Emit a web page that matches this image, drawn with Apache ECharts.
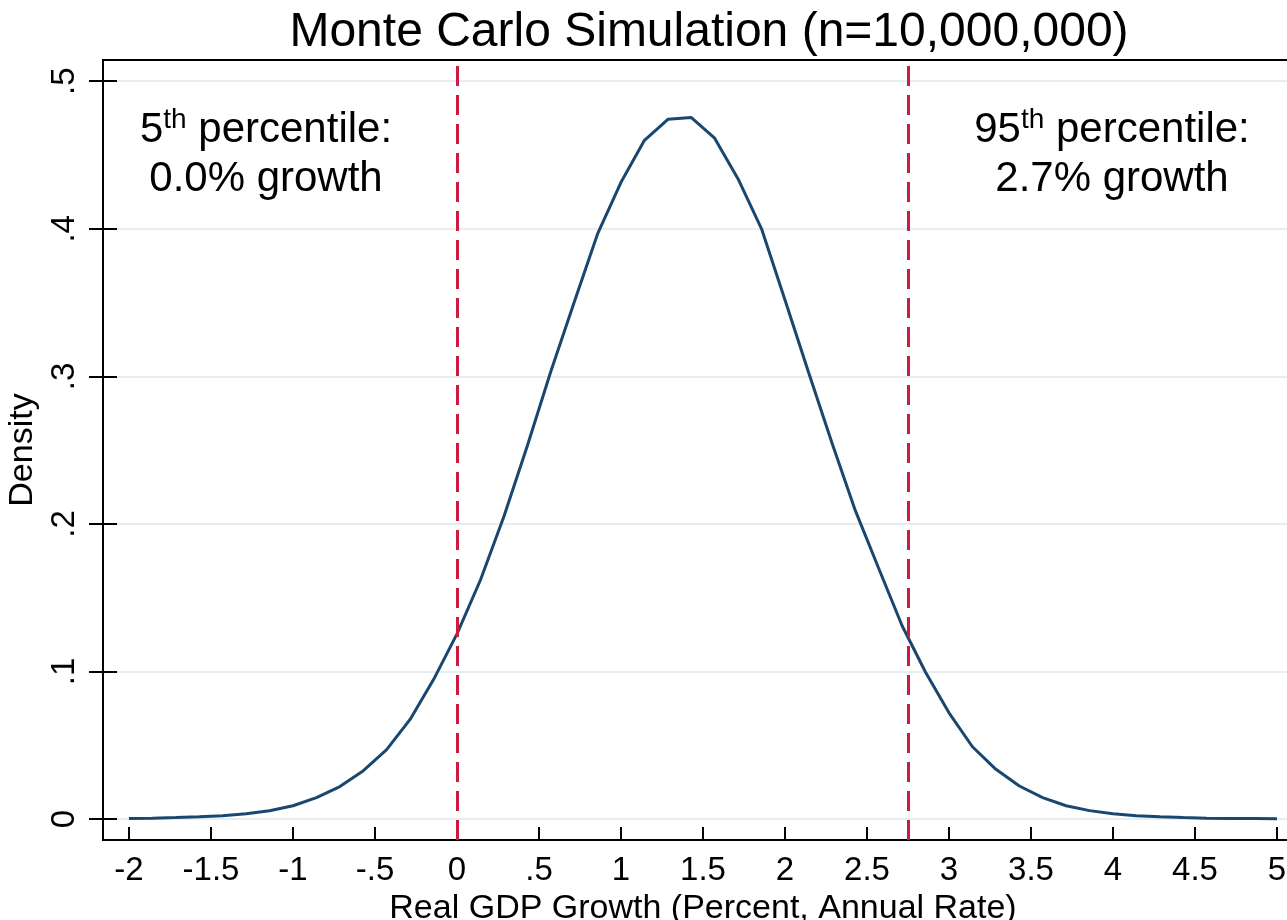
<!DOCTYPE html>
<html>
<head>
<meta charset="utf-8">
<title>Monte Carlo Simulation</title>
<script src="https://cdn.jsdelivr.net/npm/echarts@6/dist/echarts.min.js"></script>
<style>
  html, body { margin: 0; padding: 0; background: #fff; }
  #chart { width: 1287px; height: 920px; }
</style>
</head>
<body>
<div id="chart"></div>
<script>
// kernel density, 50 evaluation points
const growth = [
  -2, -1.857, -1.714, -1.571, -1.429, -1.286, -1.143, -1, -0.857, -0.714,
  -0.571, -0.429, -0.286, -0.143, 0, 0.143, 0.286, 0.429, 0.571, 0.714,
  0.857, 1, 1.143, 1.286, 1.429, 1.571, 1.714, 1.857, 2, 2.143,
  2.286, 2.429, 2.571, 2.714, 2.857, 3, 3.143, 3.286, 3.429, 3.571,
  3.714, 3.857, 4, 4.143, 4.286, 4.429, 4.571, 4.714, 4.857, 5
];
const density = [
  0.0004, 0.0006, 0.001, 0.0015, 0.0023, 0.0036, 0.0056, 0.009, 0.0145, 0.022,
  0.0328, 0.047, 0.0675, 0.0945, 0.1255, 0.162, 0.205, 0.253, 0.303, 0.35,
  0.3965, 0.4315, 0.46, 0.4742, 0.4754, 0.4614, 0.4338, 0.4, 0.3517, 0.303,
  0.255, 0.209, 0.17, 0.131, 0.0995, 0.072, 0.049, 0.0337, 0.0224, 0.0145,
  0.009, 0.0057, 0.0036, 0.0023, 0.0015, 0.001, 0.0006, 0.0004, 0.0003, 0.0002
];
const xTicks = [-2, -1.5, -1, -0.5, 0, 0.5, 1, 1.5, 2, 2.5, 3, 3.5, 4, 4.5, 5];
const yTicks = [0, 0.1, 0.2, 0.3, 0.4, 0.5];
const cutoffs = [0, 2.75]; // 5th and 95th percentile

const FONT = '"Liberation Sans", Arial, sans-serif';

// stata style: .5 instead of 0.5
function fmt(v) {
  const s = String(+Number(v).toFixed(2));
  return s.replace(/^(-?)0\./, '$1.');
}

const chart = echarts.init(document.getElementById('chart'));

chart.setOption({
  backgroundColor: '#fff',
  animation: false,
  textStyle: { fontFamily: FONT },
  title: {
    text: 'Monte Carlo Simulation (n=10,000,000)',
    left: 704,
    top: 4,
    textAlign: 'center',
    textStyle: { fontSize: 48, fontWeight: 'normal', color: '#000', fontFamily: FONT }
  },
  grid: {
    left: 103,
    right: -16,
    top: 60,
    bottom: 80,
    outerBoundsMode: 'none',
    containLabel: false,
    show: true,
    borderColor: '#000',
    borderWidth: 2
  },
  xAxis: {
    type: 'value',
    min: -2.1585,
    max: 5.1585,
    name: 'Real GDP Growth (Percent, Annual Rate)',
    nameLocation: 'middle',
    nameGap: 49,
    nameTextStyle: { fontSize: 34, color: '#000', fontFamily: FONT },
    axisLine: { onZero: false, lineStyle: { color: '#000', width: 2 } },
    axisTick: { customValues: xTicks, inside: true, length: 13, lineStyle: { color: '#000', width: 2 } },
    axisLabel: { customValues: xTicks, formatter: fmt, fontSize: 33, color: '#000', margin: 14 },
    splitLine: { show: false }
  },
  yAxis: [
    {
      type: 'value',
      min: -0.0142,
      max: 0.5144,
      position: 'left',
      name: 'Density',
      nameLocation: 'middle',
      nameGap: 60,
      nameTextStyle: { fontSize: 34, color: '#000', fontFamily: FONT },
      axisLine: { show: true, onZero: false, lineStyle: { color: '#000', width: 2 } },
      axisTick: { customValues: yTicks, length: 14, lineStyle: { color: '#000', width: 2 } },
      axisLabel: { customValues: yTicks, formatter: fmt, rotate: 90, fontSize: 33, color: '#000', margin: 22 },
      splitLine: { show: true, lineStyle: { color: '#e6eef1', width: 2 } }
    },
    {
      // second copy only for the inner half of the crossing ticks
      type: 'value',
      min: -0.0142,
      max: 0.5144,
      position: 'left',
      axisLine: { show: false, onZero: false },
      axisTick: { customValues: yTicks, inside: true, length: 14, lineStyle: { color: '#000', width: 2 } },
      axisLabel: { show: false },
      splitLine: { show: false }
    }
  ],
  graphic: [
    {
      type: 'text',
      x: 266,
      y: 106,
      style: {
        text: '{n|5}{s|th}{n| percentile:}\n{n|0.0% growth}',
        align: 'center',
        verticalAlign: 'top',
        fill: '#000',
        rich: {
          n: { fontSize: 42, lineHeight: 49, fontFamily: FONT, color: '#000' },
          s: { fontSize: 28, lineHeight: 49, fontFamily: FONT, color: '#000', verticalAlign: 'top' }
        }
      }
    },
    {
      type: 'text',
      x: 1112,
      y: 106,
      style: {
        text: '{n|95}{s|th}{n| percentile:}\n{n|2.7% growth}',
        align: 'center',
        verticalAlign: 'top',
        fill: '#000',
        rich: {
          n: { fontSize: 42, lineHeight: 49, fontFamily: FONT, color: '#000' },
          s: { fontSize: 28, lineHeight: 49, fontFamily: FONT, color: '#000', verticalAlign: 'top' }
        }
      }
    }
  ],
  series: [
    {
      type: 'line',
      data: growth.map((g, i) => [g, density[i]]),
      showSymbol: false,
      lineStyle: { color: '#1a476f', width: 3 },
      z: 3,
      markLine: {
        silent: true,
        symbol: 'none',
        label: { show: false },
        lineStyle: { color: '#cc1a40', width: 3, type: [20, 9] },
        data: cutoffs.map(v => ({ xAxis: v }))
      }
    }
  ]
});
</script>
</body>
</html>
